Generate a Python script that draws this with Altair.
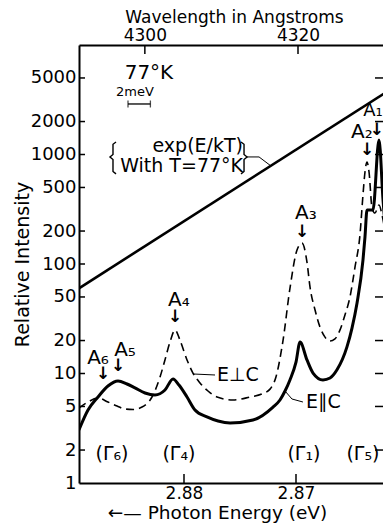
import altair as alt
import pandas as pd

# ---------------- data ----------------
# E || C  (solid)
para_E = [2.88938, 2.88857, 2.88768, 2.88679, 2.88589, 2.88509, 2.88438, 2.88348, 2.88259, 2.88170,
          2.88098, 2.88045, 2.87973, 2.87902, 2.87795, 2.87696, 2.87589, 2.87384, 2.87205, 2.87143,
          2.87098, 2.87054, 2.87000, 2.86964, 2.86902, 2.86848, 2.86759, 2.86696, 2.86634, 2.86545,
          2.86500, 2.86455, 2.86402, 2.86384, 2.86366, 2.86313, 2.86259, 2.86223, 2.86188, 2.86161]
para_I = [3.05, 4.64, 6.10, 7.69, 8.55, 8.02, 7.39, 6.64, 6.37, 7.07,
          8.92, 7.85, 6.10, 4.64, 4.01, 3.68, 3.53, 3.76, 4.94, 5.73,
          6.92, 8.73, 12.7, 19.4, 13.3, 10.1, 8.73, 9.1, 10.8, 17.5,
          26, 44.1, 108.6, 177, 311, 311, 1357, 384, 134, 42.2]

# E _|_ C  (dashed)
perp_E = [2.88938, 2.88857, 2.88768, 2.88679, 2.88598, 2.88527, 2.88455, 2.88375, 2.88286, 2.88214,
          2.88170, 2.88125, 2.88080, 2.88036, 2.87973, 2.87920, 2.87857, 2.87786, 2.87705, 2.87563,
          2.87411, 2.87304, 2.87232, 2.87179, 2.87116, 2.87054, 2.86991, 2.86946, 2.86902, 2.86875,
          2.86830, 2.86786, 2.86741, 2.86696, 2.86652, 2.86607, 2.86563, 2.86518, 2.86473, 2.86429,
          2.86402, 2.86384, 2.86366, 2.86348, 2.86321, 2.86295, 2.86259, 2.86232, 2.86205, 2.86179, 2.86161]
perp_I = [4.84, 5.49, 5.97, 5.49, 5.05, 4.74, 4.69, 4.94, 6.10, 9.29,
          13.3, 19.4, 25.0, 20.2, 13.3, 10.1, 8.2, 6.92, 6.10, 5.73,
          6.10, 6.5, 7.2, 9.3, 20, 60, 134, 155, 104, 61.7,
          38, 26.6, 21.5, 19.8, 20.7, 25, 34.2, 50, 94, 184,
          427, 692, 855, 692, 325, 292, 346, 280, 192, 94, 47]

# exp(E/kT) reference line
exp_E = [2.88938, 2.86161]
exp_I = [60, 3900]

# axes (the original figure runs past the right edge of the picture)
E_LEFT, E_RIGHT = 2.889375, 2.862232
LAM_LEFT, LAM_RIGHT = 4291.4, 4331.1
y_tick_vals = [2, 5, 10, 20, 50, 100, 200, 500, 1000, 2000, 5000]
y_label_vals = [1, 2, 5, 10, 20, 50, 100, 200, 500, 1000, 2000, 5000]
x_tick_vals = [2.88, 2.87]
lam_tick_vals = [4300, 4320]

# annotations
peak_names = ["A₆", "A₅", "A₄", "A₃", "A₂"]
peak_lab_E = [2.88768, 2.88527, 2.88045, 2.86911, 2.86411]
peak_lab_I = [13.9, 16.4, 46.9, 292, 1605]
a1_E, a1_I = [2.86313], [2500]
arrow_E = [2.88723, 2.88589, 2.88080, 2.86946, 2.86366, 2.86277]
arrow_I = [9.9, 11.7, 32.8, 196, 1099, 1675]
gamma_names = ["(Γ₆)", "(Γ₄)", "(Γ₁)", "(Γ₅)"]
gamma_E = [2.88643, 2.88045, 2.86929, 2.86402]
gamma_I = [1.84, 1.84, 1.84, 1.84]
pol_names = ["E⊥C", "E∥C"]
pol_E = [2.87705, 2.86911]
pol_I = [9.69, 5.49]
exp_lines = ["exp(E/kT)", "With T=77°K"]
exp_lab_E = [2.87473, 2.87473]
exp_lab_I = [1196, 785]
# brace outlines (left and right) around the exp label
brace_g = [1] * 7 + [2] * 7
brace_o = list(range(7)) * 2
brace_E = [2.88607, 2.88634, 2.88634, 2.88661, 2.88634, 2.88634, 2.88607,
           2.87491, 2.87464, 2.87464, 2.87437, 2.87464, 2.87464, 2.87491]
brace_I = [1300, 1240, 1000, 950, 900, 700, 665,
           1300, 1240, 1000, 950, 900, 700, 665]
leader_g = [1, 1, 2, 2, 2, 3, 3, 3]
leader_o = [0, 1, 0, 1, 2, 0, 1, 2]
leader_E = [2.87920, 2.87723, 2.87098, 2.87036, 2.86938, 2.87437, 2.87330, 2.87223]
leader_I = [9.9, 9.69, 6.92, 5.85, 5.49, 950, 950, 785]
temp_E, temp_I = [2.88313], [5550]
mev_E, mev_I = [2.88438], [3720]
bar_E1, bar_E2, bar_I = 2.885, 2.883, 2893

# ---------------- chart ----------------
W, H = 304, 438
FONT = "DejaVu Sans"

xs = alt.Scale(domain=[E_RIGHT, E_LEFT], reverse=True, nice=False, zero=False)
ys = alt.Scale(type="log", domain=[1, 10000], nice=False)
ls = alt.Scale(domain=[LAM_LEFT, LAM_RIGHT], nice=False, zero=False)

x_axis = alt.Axis(values=x_tick_vals, format=".2f", title="←—  Photon Energy (eV)",
                  tickSize=0, labelPadding=2, labelFontSize=17, labelFont=FONT,
                  titleFont=FONT, titleFontSize=18.5, titleFontWeight="normal",
                  titleX=138, titleY=29, titleAlign="center", titleBaseline="middle",
                  domainWidth=2, domainColor="black", grid=False, labelColor="black",
                  titleColor="black", labelFlush=False)
y_axis = alt.Axis(values=y_label_vals, format="d", title="Relative Intensity",
                  tickSize=0, labelPadding=3, labelFontSize=18, labelFont=FONT,
                  titleFont=FONT, titleFontSize=19, titleFontWeight="normal",
                  titleX=-57, titleY=H / 2, titleAngle=270, titleAlign="center",
                  titleBaseline="middle", domainWidth=2, domainColor="black", grid=False,
                  labelColor="black", titleColor="black", labelOverlap=False, labelBaseline="middle")
top_axis = alt.Axis(orient="top", values=lam_tick_vals, format="d",
                    title="Wavelength in Angstroms", tickSize=0, labelPadding=1,
                    labelFontSize=17, labelFont=FONT, titleFont=FONT, titleFontSize=17,
                    titleFontWeight="normal", titleX=155, titleY=-28, titleAlign="center",
                    titleBaseline="middle", domainWidth=2, domainColor="black", grid=False,
                    labelColor="black", titleColor="black", labelFlush=False)


def X(f="E"):
    return alt.X(f"{f}:Q", scale=xs, axis=x_axis)


def Y(f="I"):
    return alt.Y(f"{f}:Q", scale=ys, axis=y_axis)


exp_df = pd.DataFrame({"E": exp_E, "I": exp_I})
para_df = pd.DataFrame({"E": para_E, "I": para_I})
perp_df = pd.DataFrame({"E": perp_E, "I": perp_I})

exp_line = alt.Chart(exp_df).mark_line(color="black", strokeWidth=2.6, clip=True).encode(
    x=X(), y=Y())
perp_line = alt.Chart(perp_df).mark_line(color="black", strokeWidth=1.6, strokeDash=[8, 5],
                                         interpolate="monotone", clip=True).encode(x=X(), y=Y())
para_line = alt.Chart(para_df).mark_line(color="black", strokeWidth=3,
                                         interpolate="monotone", clip=True).encode(x=X(), y=Y())


def text_layer(texts, E, I, size, align="center", weight="normal", font=FONT):
    df = pd.DataFrame({"E": E, "I": I, "t": texts})
    return alt.Chart(df).mark_text(font=font, fontSize=size, align=align, baseline="middle",
                                   fontWeight=weight, color="black").encode(
        x=X(), y=Y(), text="t:N")


peaks = text_layer(peak_names, peak_lab_E, peak_lab_I, 20)
a1 = text_layer(["A₁"], a1_E, a1_I, 18)
arrows = text_layer(["↓"] * 6, arrow_E, arrow_I, 17, weight="bold")
gammas = text_layer(gamma_names, gamma_E, gamma_I, 19)
pols = text_layer(pol_names, pol_E, pol_I, 19, align="left")
explab = text_layer(exp_lines, exp_lab_E, exp_lab_I, 19, align="right")
temp = text_layer(["77°K"], temp_E, temp_I, 20)
mev = text_layer(["2meV"], mev_E, mev_I, 13)

brace_df = pd.DataFrame({"E": brace_E, "I": brace_I, "g": brace_g, "o": brace_o})
braces = alt.Chart(brace_df).mark_line(color="black", strokeWidth=1.4).encode(
    x=X(), y=Y(), detail="g:N", order="o:Q")

leader_df = pd.DataFrame({"E": leader_E, "I": leader_I, "g": leader_g, "o": leader_o})
leaders = alt.Chart(leader_df).mark_line(color="black", strokeWidth=1).encode(
    x=X(), y=Y(), detail="g:N", order="o:Q")

bar_df = pd.DataFrame({"E": [bar_E1], "E2": [bar_E2], "I": [bar_I]})
bar = alt.Chart(bar_df).mark_rule(color="black", strokeWidth=1.3).encode(
    x=X(), x2="E2:Q", y=Y())
bar_ends = alt.Chart(pd.DataFrame({"E": [bar_E1, bar_E2], "I": [bar_I, bar_I]})).mark_tick(
    orient="vertical", color="black", size=7, thickness=1.3).encode(x=X(), y=Y())

ytick_df = pd.DataFrame({"I": y_tick_vals})
left_ticks = alt.Chart(ytick_df).mark_rule(color="black", strokeWidth=1.5).encode(
    y=Y(), x=alt.value(0), x2=alt.value(6))
right_ticks = alt.Chart(ytick_df).mark_rule(color="black", strokeWidth=1.5).encode(
    y=Y(), x=alt.value(W - 8), x2=alt.value(W))
bottom_ticks = alt.Chart(pd.DataFrame({"E": x_tick_vals})).mark_rule(
    color="black", strokeWidth=1.5).encode(x=X(), y=alt.value(H), y2=alt.value(H - 9))

main = alt.layer(exp_line, perp_line, para_line, leaders, braces, bar, bar_ends,
                 peaks, a1, arrows, gammas, pols, explab, temp, mev,
                 left_ticks, right_ticks, bottom_ticks)

top = alt.Chart(pd.DataFrame({"lam": lam_tick_vals})).mark_rule(
    color="black", strokeWidth=1.5).encode(
    x=alt.X("lam:Q", scale=ls, axis=top_axis), y=alt.value(0), y2=alt.value(9))

chart = alt.layer(main, top).resolve_scale(x="independent").properties(
    width=W, height=H,
    autosize=alt.AutoSizeParams(type="none"),
    padding={"left": 71, "top": 37, "right": 0, "bottom": 42},
    background="white",
).configure_view(stroke=None)

chart.save("out.html", embed_options={"renderer": "svg", "actions": False})
